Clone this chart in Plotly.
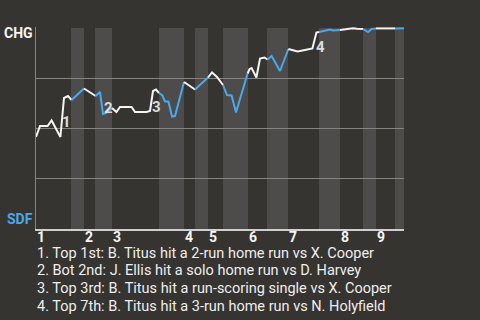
import plotly.graph_objects as go

# ---- data ----
play_x = [0, 1, 2.9, 3.9, 6.1, 7, 8, 8.9,
          12, 13.5, 14.9,
          16, 16.75, 17.5, 19,
          20.1, 21, 23.9, 24.75, 27.6, 28.5, 29.25, 30, 30.75,
          31.6, 32.25, 33.1, 34, 34.75, 37,
          39.75, 43,
          44, 45.25, 46.75,
          47.75, 48.9, 50, 52.9,
          53.4, 53.9, 55.1, 56, 57.1, 57.9,
          58.9, 61, 63.1,
          64, 65.4, 67.25, 69.1, 70.1, 70.75,
          72.25, 73.5, 74.25, 76,
          78.5, 79.25, 80.25, 81.75,
          83, 83.9, 85,
          89.75, 92]
win_prob = [0.455, 0.51, 0.51, 0.5375, 0.455, 0.65, 0.66, 0.64,
            0.6975, 0.6775, 0.66,
            0.68, 0.57, 0.575, 0.60,
            0.58, 0.605, 0.605, 0.58, 0.58, 0.585, 0.685, 0.6925, 0.675,
            0.6625, 0.6325, 0.6325, 0.5575, 0.56, 0.73,
            0.6925, 0.7525,
            0.7775, 0.755, 0.715,
            0.665, 0.6625, 0.5775, 0.7725,
            0.795, 0.80, 0.7525, 0.8475, 0.8525, 0.8425,
            0.86, 0.785, 0.895,
            0.89, 0.8825, 0.89, 0.8975, 0.9775, 0.98,
            0.985, 0.9925, 0.9875, 0.99,
            0.995, 0.999, 0.996, 0.995,
            0.98, 0.995, 0.998,
            0.998, 0.999]

# start of each half inning (top, bottom, top, ...) and end of game
half_bounds = [0, 8.75, 12, 14.75, 19, 30.75, 37, 39.75, 43, 46.75, 53,
               57.75, 63, 70.75, 76, 81.75, 85, 89.75, 92]
inning_labels = ["1", "2", "3", "4", "5", "6", "7", "8", "9"]

event_numbers = ["1", "2", "3", "4"]
event_play = [7, 16.75, 29.25, 70.1]
event_prob = [0.65, 0.57, 0.685, 0.9775]
event_text = [
    "1. Top 1st: B. Titus hit a 2-run home run vs X. Cooper",
    "2. Bot 2nd: J. Ellis hit a solo home run vs D. Harvey",
    "3. Top 3rd: B. Titus hit a run-scoring single vs X. Cooper",
    "4. Top 7th: B. Titus hit a 3-run home run vs N. Holyfield",
]
team_top = "CHG"
team_bottom = "SDF"

# ---- styles ----
BG = "#363430"
BAND = "#4e4c4a"
GRID = "#868481"
WHITE = "#f4f4f4"
BLUE = "#4aa8ec"
FONT = "Roboto"

fig = go.Figure()


def half_index(x):
    for i in range(len(half_bounds) - 1):
        if half_bounds[i] <= x < half_bounds[i + 1]:
            return i
    return len(half_bounds) - 2


groups = []
cur_blue = None
cur = []
for i in range(len(play_x) - 1):
    mid = (play_x[i] + play_x[i + 1]) / 2
    blue = half_index(mid) % 2 == 1
    if blue != cur_blue:
        if cur:
            groups.append((cur_blue, cur))
        cur = [i]
        cur_blue = blue
    cur.append(i + 1)
groups.append((cur_blue, cur))

for blue, idx in groups:
    fig.add_trace(go.Scatter(
        x=[play_x[k] for k in idx], y=[win_prob[k] for k in idx],
        mode="lines", line=dict(color=BLUE if blue else WHITE, width=2),
        hoverinfo="skip", showlegend=False))

# shaded bottom halves
for h in range(1, len(half_bounds) - 1, 2):
    fig.add_shape(type="rect", xref="x", yref="y",
                  x0=half_bounds[h], x1=half_bounds[h + 1], y0=-0.005, y1=1.0,
                  fillcolor=BAND, line_width=0, layer="below")

ann = []
# inning labels
for k, lab in enumerate(inning_labels):
    ann.append(dict(x=half_bounds[2 * k], y=-0.04, xref="x", yref="paper",
                    text="<b>%s</b>" % lab, showarrow=False, xanchor="left",
                    yanchor="middle", xshift=-1,
                    font=dict(family=FONT, size=14, color=WHITE)))

# event number markers
shifts = [(2, -24), (5, 6), (3, -16), (4, -14)]
for n, xv, yv, (dx, dy) in zip(event_numbers, event_play, event_prob, shifts):
    ann.append(dict(x=xv, y=yv, xref="x", yref="y", text="<b>%s</b>" % n,
                    showarrow=False, xshift=dx, yshift=dy,
                    font=dict(family=FONT, size=15, color="#dcdcdc")))

# event descriptions
line_y = [-0.1194, -0.2075, -0.2935, -0.383]
for t, yy in zip(event_text, line_y):
    ann.append(dict(x=0, y=yy, xref="paper", yref="paper", text=t,
                    showarrow=False, xanchor="left", yanchor="middle",
                    xshift=-1,
                    font=dict(family=FONT, size=14.5, color="#eeeeee")))

# team labels
ann.append(dict(x=0, y=0.970, xref="paper", yref="paper",
                text="<b>%s</b>" % team_top, showarrow=False,
                xanchor="right", yanchor="middle", xshift=-1,
                font=dict(family=FONT, size=14, color=WHITE)))
ann.append(dict(x=0, y=0.0498, xref="paper", yref="paper",
                text="<b>%s</b>" % team_bottom, showarrow=False,
                xanchor="right", yanchor="middle", xshift=-1,
                font=dict(family=FONT, size=14, color=BLUE)))

fig.update_layout(
    width=480, height=320,
    margin=dict(l=36, r=76, t=27, b=91),
    paper_bgcolor=BG, plot_bgcolor=BG,
    annotations=ann,
    showlegend=False,
    xaxis=dict(range=[0, 92], showgrid=False, zeroline=False,
               showticklabels=False, ticks="", showline=True,
               linecolor="#cfcfcf", linewidth=2, fixedrange=True),
    yaxis=dict(range=[-0.005, 1.005], tickvals=[0.25, 0.5, 0.75, 1.0],
               showticklabels=False, ticks="", showgrid=True,
               gridcolor=GRID, gridwidth=1, zeroline=False,
               showline=True, linecolor=GRID, linewidth=1, fixedrange=True),
)

fig.write_html("out.html", config={"displayModeBar": False})
